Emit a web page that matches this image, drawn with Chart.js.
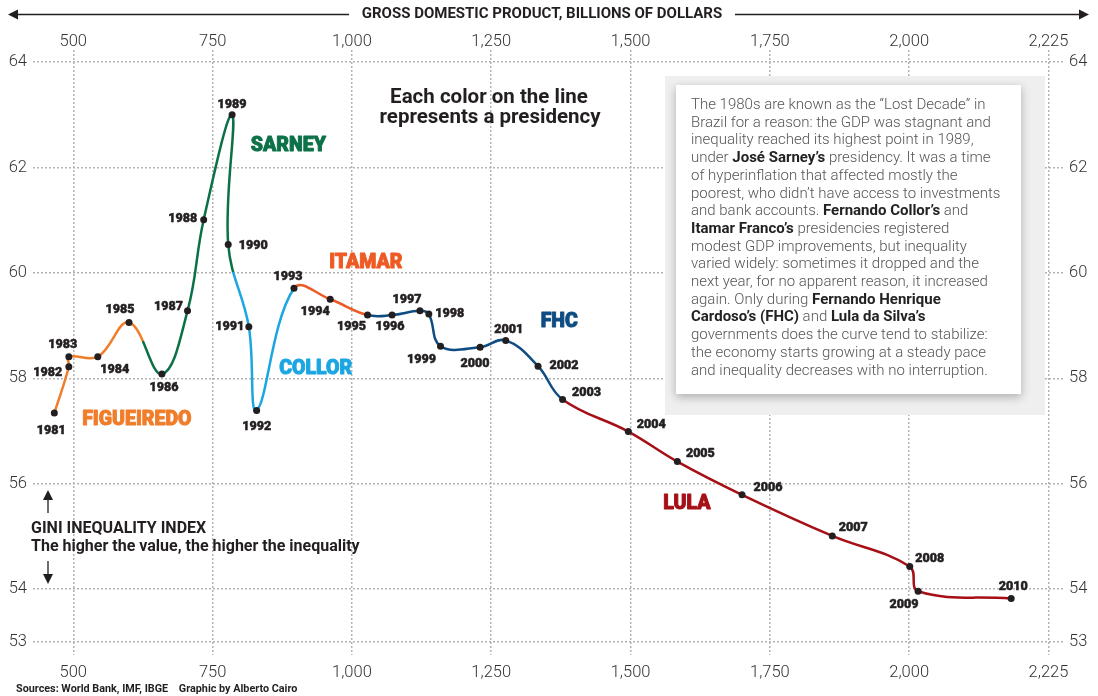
<!DOCTYPE html>
<html>
<head>
<meta charset="utf-8">
<script src="https://cdn.jsdelivr.net/npm/chart.js@4.4.1/dist/chart.umd.min.js"></script>
<style>
  html, body { margin: 0; padding: 0; background: #fff; }
  #wrap { width: 1098px; height: 696px; position: relative; }
</style>
</head>
<body>
<div id="wrap"><canvas id="giniChart" width="1098" height="696"></canvas></div>
<script>
// values
const years = [1981,1982,1983,1984,1985,1986,1987,1988,1989,1990,
               1991,1992,1993,1994,1995,1996,1997,1998,1999,2000,
               2001,2002,2003,2004,2005,2006,2007,2008,2009,2010];
const gdp = [466,492,492,544,600,659,705,734,785,778,
             815,829,896,961,1028,1072,1122,1138,1159,1230,
             1276,1334,1378,1496,1584,1700,1862,2001,2016,2183];
const gini = [57.34,58.22,58.41,58.41,59.06,58.08,59.28,61.01,63.00,60.54,
              58.98,57.39,59.71,59.50,59.20,59.20,59.28,59.22,58.61,58.59,
              58.72,58.23,57.60,56.99,56.42,55.79,55.01,54.43,53.96,53.82];

const presidents = ['FIGUEIREDO','SARNEY','COLLOR','ITAMAR','FHC','LULA'];
const presidentColors = ['#f07d2a','#0d7148','#1ba6e2','#ee5a24','#0f4c82','#a50f15'];
// which presidency colours each segment (start, end, switch point along segment)
const segmentPresident = [
  [0,0],[0,0],[0,0],[0,0],[0,1,0.38],[1,1],[1,1],[1,1],[1,1],[1,2,0.33],
  [2,2],[2,2],[3,3],[3,3],[4,4],[4,4],[4,4],[4,4],[4,4],[4,4],
  [4,4],[4,4],[5,5],[5,5],[5,5],[5,5],[5,5],[5,5],[5,5]
];
// where the presidency names sit (gdp, gini)
const presidentLabelX = [614, 886, 935, 1025, 1372, 1601];
const presidentLabelY = [57.21, 62.41, 58.18, 60.18, 59.07, 55.61];

const xTickValues = [500,750,1000,1250,1500,1750,2000,2250];
const xTickLabels = ['500','750','1,000','1,250','1,500','1,750','2,000','2,225'];
const yTickValues = [53,54,56,58,60,62,64];

// year label offsets from each dot, px
const yearLabelOffsets = [
  [-3,18],[-21,6],[-6,-12],[17,13],[-9,-13],[2,14],[-19,-4],[-21,-1],[0,-10],[25,1],
  [-19,0],[0,16],[-6,-11],[-15,13],[-16,12],[-2,12],[-13,-11],[21,0],[-19,14],[-5,17],
  [3,-11],[26,0],[24,-7],[23,-7],[23,-8],[26,-7],[21,-8],[20,-8],[-14,14],[2,-12]
];

const noteLines = [
  'The 1980s are known as the \u201cLost Decade\u201d in',
  'Brazil for a reason: the GDP was stagnant and',
  'inequality reached its highest point in 1989,',
  'under **Jos\u00e9 Sarney\u2019s** presidency. It was a time',
  'of hyperinflation that affected mostly the',
  'poorest, who didn\u2019t have access to investments',
  'and bank accounts. **Fernando Collor\u2019s** and',
  '**Itamar Franco\u2019s** presidencies registered',
  'modest GDP improvements, but inequality',
  'varied widely: sometimes it dropped and the',
  'next year, for no apparent reason, it increased',
  'again. Only during **Fernando Henrique**',
  '**Cardoso\u2019s (FHC)** and **Lula da Silva\u2019s**',
  'governments does the curve tend to stabilize:',
  'the economy starts growing at a steady pace',
  'and inequality decreases with no interruption.'
];

const FONT = 'Roboto, "Open Sans", sans-serif';
const GRID = '#b3b3b3';
const INK = '#231f20';

function segColor(ctx) {
  const seg = segmentPresident[ctx.p0DataIndex];
  const c0 = presidentColors[seg[0]];
  const c1 = presidentColors[seg[1]];
  if (seg[0] === seg[1]) return c0;
  const g = ctx.chart.ctx.createLinearGradient(ctx.p0.x, ctx.p0.y, ctx.p1.x, ctx.p1.y);
  g.addColorStop(0, c0);
  g.addColorStop(seg[2], c0);
  g.addColorStop(seg[2], c1);
  g.addColorStop(1, c1);
  return g;
}

function xAxis(position) {
  return {
    type: 'linear',
    axis: 'x',
    position: position,
    min: 427.7,
    max: 2276,
    afterBuildTicks: s => { s.ticks = xTickValues.map(v => ({ value: v })); },
    afterFit: s => { s.height = position === 'top' ? 50 : 41; },
    ticks: {
      callback: (v, i) => xTickLabels[i],
      font: { family: FONT, size: 16.5, weight: 300 },
      color: '#333',
      padding: position === 'top' ? -2 : 8,
      maxRotation: 0,
      autoSkip: false
    },
    grid: { drawOnChartArea: position === 'bottom', drawTicks: false, color: GRID, lineWidth: 1.5 },
    border: { display: false, dash: [2, 2] }
  };
}

function yAxis(position) {
  return {
    type: 'linear',
    axis: 'y',
    position: position,
    min: 52.75,
    max: 64.23,
    afterBuildTicks: s => { s.ticks = yTickValues.map(v => ({ value: v })); },
    afterFit: s => { s.width = position === 'left' ? 33 : 35; },
    ticks: {
      font: { family: FONT, size: 16.5, weight: 300 },
      color: '#333',
      padding: 6,
      autoSkip: false
    },
    grid: { drawOnChartArea: position === 'left', drawTicks: false, color: GRID, lineWidth: 1.5 },
    border: { display: false, dash: [2, 2] }
  };
}

function arrowHead(ctx, x, y, dir) {
  ctx.beginPath();
  if (dir === 'left') { ctx.moveTo(x, y); ctx.lineTo(x + 10, y - 5); ctx.lineTo(x + 10, y + 5); }
  if (dir === 'right') { ctx.moveTo(x, y); ctx.lineTo(x - 10, y - 5); ctx.lineTo(x - 10, y + 5); }
  if (dir === 'up') { ctx.moveTo(x, y); ctx.lineTo(x - 5, y + 10); ctx.lineTo(x + 5, y + 10); }
  if (dir === 'down') { ctx.moveTo(x, y); ctx.lineTo(x - 5, y - 10); ctx.lineTo(x + 5, y - 10); }
  ctx.closePath();
  ctx.fill();
}

// heavy text: fill plus a thin stroke in the same colour
function heavyText(ctx, text, x, y, stroke) {
  ctx.lineWidth = stroke;
  ctx.strokeStyle = ctx.fillStyle;
  ctx.lineJoin = 'round';
  ctx.strokeText(text, x, y);
  ctx.fillText(text, x, y);
}

const notePlugin = {
  id: 'note',
  beforeDatasetsDraw(chart) {
    const ctx = chart.ctx;
    ctx.save();
    ctx.fillStyle = '#efefef';
    ctx.fillRect(665, 76, 380, 339);
    ctx.shadowColor = 'rgba(0,0,0,0.28)';
    ctx.shadowBlur = 9;
    ctx.shadowOffsetY = 3;
    ctx.fillStyle = '#fff';
    ctx.fillRect(676, 85, 345, 309);
    ctx.restore();

    ctx.save();
    ctx.textBaseline = 'alphabetic';
    noteLines.forEach((line, i) => {
      let x = 691;
      const y = 109 + i * 17.7;
      line.split('**').forEach((part, j) => {
        const bold = j % 2 === 1;
        ctx.font = (bold ? '700 ' : '300 ') + '15px ' + FONT;
        ctx.fillStyle = bold ? '#222' : '#555';
        ctx.fillText(part, x, y);
        x += ctx.measureText(part).width;
      });
    });
    ctx.restore();
  }
};

const labelPlugin = {
  id: 'labels',
  afterDatasetsDraw(chart) {
    const ctx = chart.ctx;
    const meta = chart.getDatasetMeta(0);
    const xs = chart.scales.x, ys = chart.scales.y;
    ctx.save();
    ctx.textAlign = 'center';
    ctx.textBaseline = 'middle';
    ctx.font = '900 12.5px ' + FONT;
    meta.data.forEach((pt, i) => {
      const off = yearLabelOffsets[i];
      ctx.fillStyle = INK;
      heavyText(ctx, String(years[i]), pt.x + off[0], pt.y + off[1], 0.5);
    });

    ctx.font = '900 19.5px ' + FONT;
    presidents.forEach((name, i) => {
      ctx.fillStyle = presidentColors[i];
      heavyText(ctx, name, xs.getPixelForValue(presidentLabelX[i]), ys.getPixelForValue(presidentLabelY[i]), 0.9);
    });

    ctx.fillStyle = INK;
    ctx.font = '700 20.5px ' + FONT;
    ctx.fillText('Each color on the line', 489, 98);
    ctx.fillText('represents a presidency', 490, 118);
    ctx.restore();
  },
  afterDraw(chart) {
    const ctx = chart.ctx;
    ctx.save();
    ctx.fillStyle = INK;
    ctx.strokeStyle = INK;
    ctx.lineWidth = 1.3;

    // top axis title with arrows
    ctx.font = '700 15px ' + FONT;
    ctx.textAlign = 'center';
    ctx.textBaseline = 'middle';
    ctx.fillText('GROSS DOMESTIC PRODUCT, BILLIONS OF DOLLARS', 542, 14);
    ctx.beginPath();
    ctx.moveTo(12, 14.5); ctx.lineTo(349, 14.5);
    ctx.moveTo(735, 14.5); ctx.lineTo(1084, 14.5);
    ctx.stroke();
    arrowHead(ctx, 8, 14.5, 'left');
    arrowHead(ctx, 1089, 14.5, 'right');

    // gini annotation
    ctx.beginPath();
    ctx.moveTo(48, 498); ctx.lineTo(48, 513);
    ctx.moveTo(48, 561); ctx.lineTo(48, 576);
    ctx.stroke();
    arrowHead(ctx, 48, 490, 'up');
    arrowHead(ctx, 48, 584, 'down');
    ctx.textAlign = 'left';
    ctx.font = '700 16px ' + FONT;
    ctx.fillText('GINI INEQUALITY INDEX', 31, 529);
    ctx.fillText('The higher the value, the higher the inequality', 31, 547);

    ctx.font = '700 10.8px ' + FONT;
    ctx.fillText('Sources: World Bank, IMF, IBGE    Graphic by Alberto Cairo', 16, 689);
    ctx.restore();
  }
};

new Chart(document.getElementById('giniChart'), {
  type: 'scatter',
  data: {
    datasets: [{
      data: gdp.map((g, i) => ({ x: g, y: gini[i] })),
      showLine: true,
      tension: 0.4,
      borderWidth: 2.5,
      borderColor: presidentColors[0],
      segment: { borderColor: segColor },
      pointRadius: 3.5,
      pointBackgroundColor: INK,
      pointBorderWidth: 0,
      xAxisID: 'x',
      yAxisID: 'y'
    }]
  },
  options: {
    responsive: false,
    devicePixelRatio: 1,
    animation: false,
    layout: { padding: 0 },
    plugins: { legend: { display: false }, tooltip: { enabled: false } },
    scales: {
      x: xAxis('bottom'),
      xTop: xAxis('top'),
      y: yAxis('left'),
      yRight: yAxis('right')
    }
  },
  plugins: [notePlugin, labelPlugin]
});
</script>
</body>
</html>
